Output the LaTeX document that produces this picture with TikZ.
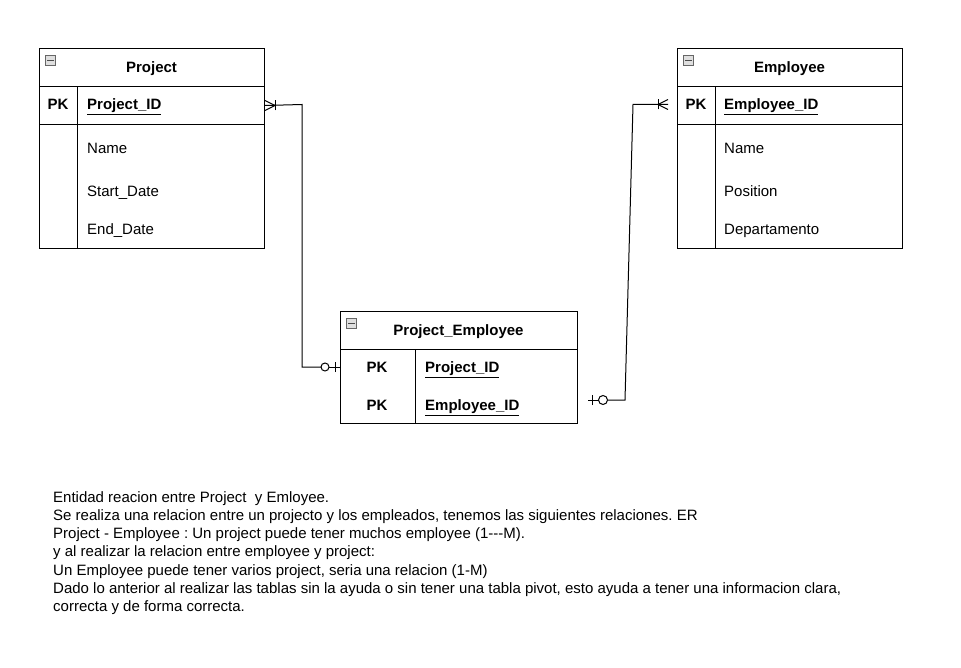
\documentclass[tikz,border=0pt]{standalone}
\usepackage{fontspec}
\setmainfont{Liberation Sans}
\begin{document}
\frenchspacing
\begin{tikzpicture}[x=1pt,y=-1pt,
  tbl/.style={draw=black,line width=1,anchor=north west,inner sep=0,rectangle},
  cell/.style={draw=black,line width=1,anchor=north west,inner sep=0,rectangle},
  ttl/.style={font=\fontsize{15}{17}\selectfont\bfseries,inner sep=0,anchor=base},
  fld/.style={font=\fontsize{15}{17}\selectfont,anchor=base west,inner sep=0},
  key/.style={font=\fontsize{15}{17}\selectfont\bfseries,anchor=base west,inner sep=0},
  pk/.style={font=\fontsize{15}{17}\selectfont\bfseries,inner sep=0,anchor=base},
  conn/.style={line width=1,draw=black},
  ermark/.style={line width=1,draw=black},
  icon/.style={draw=gray!80!black,fill=gray!25,line width=0.8,minimum width=10,minimum height=10,inner sep=0,anchor=north west}
]
\useasboundingbox[fill=white] (0,0) rectangle (961,668);

% ---------- Project ----------
\node[tbl,minimum width=225,minimum height=200] (proj) at (39,48) {};
\node[cell,minimum width=225,minimum height=38] (projpk) at (39,86) {};
\node[cell,minimum width=38,minimum height=162] (projpkcol) at (39,86) {};
\node[icon] (projicon) at (45,55) {};
\draw[line width=1.4,black!70] ([xshift=2]projicon.west) -- ([xshift=-2]projicon.east);
\node[ttl] (projt) at (151.5,72.5) {Project};
\node[pk] (projpkl) at (58,109.5) {PK};
\node[key] (projid) at (87,109.5) {\underline{Project\_ID}};
\node[fld] (projn) at (87,153.5) {Name};
\node[fld] (projs) at (87,196.5) {Start\_Date};
\node[fld] (proje) at (87,234.5) {End\_Date};

% ---------- Employee ----------
\node[tbl,minimum width=225,minimum height=200] (emp) at (677,48) {};
\node[cell,minimum width=225,minimum height=38] (emppk) at (677,86) {};
\node[cell,minimum width=38,minimum height=162] (emppkcol) at (677,86) {};
\node[icon] (empicon) at (683,55) {};
\draw[line width=1.4,black!70] ([xshift=2]empicon.west) -- ([xshift=-2]empicon.east);
\node[ttl] (empt) at (789.5,72.5) {Employee};
\node[pk] (emppkl) at (696,109.5) {PK};
\node[key] (empid) at (724,109.5) {\underline{Employee\_ID}};
\node[fld] (empn) at (724,153.5) {Name};
\node[fld] (empp) at (724,196.5) {Position};
\node[fld] (empd) at (724,234.5) {Departamento};

% ---------- Project_Employee ----------
\node[tbl,minimum width=237,minimum height=112] (pe) at (340,311) {};
\node[cell,minimum width=237,minimum height=38] (pehead) at (340,311) {};
\node[cell,minimum width=75,minimum height=74] (pepkcol) at (340,349) {};
\node[icon] (peicon) at (346,318) {};
\draw[line width=1.4,black!70] ([xshift=2]peicon.west) -- ([xshift=-2]peicon.east);
\node[ttl] (pet) at (458.5,335.5) {Project\_Employee};
\node[pk] (pepk1) at (377,372.5) {PK};
\node[pk] (pepk2) at (377,410.5) {PK};
\node[key] (peid1) at (425,372.5) {\underline{Project\_ID}};
\node[key] (peid2) at (425,410.5) {\underline{Employee\_ID}};

% ---------- connector Project -> Project_Employee ----------
\coordinate (c1s) at (projpk.east);
\coordinate (c1e) at (340,367);
\draw[conn] (c1s) -- (302,104.5) -- (302,367) -- (321,367);
\draw[conn] (329,367) -- (c1e);
% one-to-many at Project
\draw[ermark] ([yshift=-5]c1s) -- ([xshift=10]c1s) -- ([yshift=5]c1s);
\draw[ermark] ([xshift=10,yshift=-5]c1s) -- ([xshift=10,yshift=5]c1s);
% zero-to-one at Project_Employee
\draw[ermark] (325,367) circle (4);
\draw[ermark] ([xshift=-5,yshift=-5]c1e) -- ([xshift=-5,yshift=5]c1e);

% ---------- connector Employee -> Project_Employee ----------
\coordinate (c2s) at (668,104.5);
\coordinate (c2e) at (588,400);
\draw[conn] (c2s) -- (633,104.5) -- (625,400) -- (607.5,400);
\draw[conn] (598.5,400) -- (c2e);
% one-to-many at Employee
\draw[ermark] ([yshift=-5]c2s) -- ([xshift=-10]c2s) -- ([yshift=5]c2s);
\draw[ermark] ([xshift=-10,yshift=-5]c2s) -- ([xshift=-10,yshift=5]c2s);
% zero-to-one at Project_Employee
\draw[ermark] (603,400) circle (4.5);
\draw[ermark] ([xshift=4,yshift=-5]c2e) -- ([xshift=4,yshift=5]c2e);

% ---------- note ----------
\node[anchor=north west,align=left,inner sep=0,font=\fontsize{15}{18.3}\selectfont] (note) at (53,491) {%
Entidad reacion entre Project\ \ y Emloyee.\\
Se realiza una relacion entre un projecto y los empleados, tenemos las siguientes relaciones. ER\\
Project - Employee : Un project puede tener muchos employee (1{-}{-}{-}M).\\
y al realizar la relacion entre employee y project:\\
Un Employee puede tener varios project, seria una relacion (1-M)\\
Dado lo anterior al realizar las tablas sin la ayuda o sin tener una tabla pivot, esto ayuda a tener una informacion clara,\\
correcta y de forma correcta.};
\end{tikzpicture}
\end{document}
